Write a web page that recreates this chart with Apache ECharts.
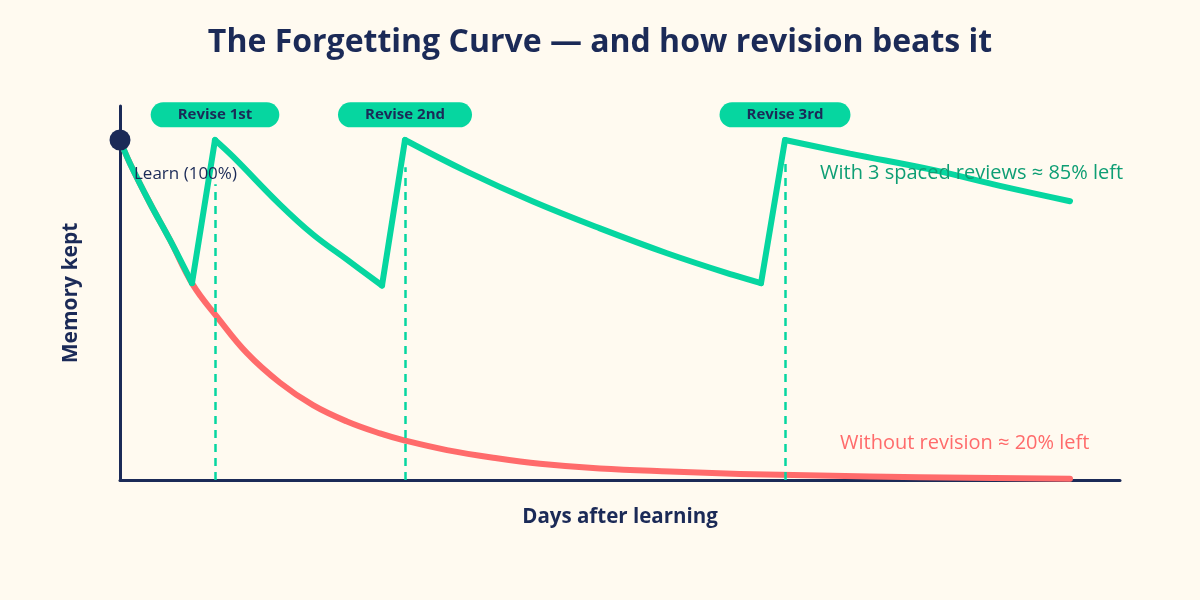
<!DOCTYPE html>
<html>
<head>
<meta charset="utf-8">
<script src="https://cdn.jsdelivr.net/npm/echarts@6/dist/echarts.min.js"></script>
<style>
  html, body { margin: 0; padding: 0; background: #fffaf0; }
  #container1 { width: 1200px; height: 600px; }
</style>
</head>
<body>
<div id="container1"></div>
<script>
var navy = '#1b2a57';
var green = '#06d6a0';
var red = '#ff6b6b';
var fontName = '"Open Sans", "Noto Sans", sans-serif';

// without revision
var redDays = [0, 1, 3, 5, 7.3, 9.7, 12.7, 16, 19.3, 22.7, 26, 28.5, 32.7, 37.7, 42, 48, 55, 62, 70, 80, 95];
var redKept = [100, 93.1, 81.4, 70.6, 57.4, 48, 37.3, 28.6, 22, 17.2, 13.7, 11.6, 8.8, 6.4, 4.8, 3.4, 2.5, 1.8, 1.3, 0.8, 0.4];

// with 3 spaced reviews
var greenDays = [0, 1, 3, 5, 7.2, 9.5, 11.3, 16, 19.3, 22.7, 26.2, 28.5, 34.7, 41.3, 48, 54.7, 61.3, 64.1, 66.5, 73, 81.3, 88, 95];
var greenKept = [100, 93.1, 81.4, 70.6, 57.9, 100, 95.1, 81, 72.2, 64.8, 57.2, 100, 90.7, 81.9, 74, 66.7, 60.3, 57.9, 100, 96, 91.2, 86.5, 82];

var reviseDays = [9.5, 28.5, 66.5];
var reviseLabels = ['Revise 1st', 'Revise 2nd', 'Revise 3rd'];
var dashTops = [87, 92, 94];
var pillLevel = 107.4;

function pairs(xs, ys) {
  return xs.map(function (x, i) { return [x, ys[i]]; });
}

// split the green curve into smooth decays and straight review jumps
function greenSeries() {
  var pts = pairs(greenDays, greenKept);
  var decays = [[pts[0]]];
  var jumps = [];
  for (var i = 1; i < pts.length; i++) {
    if (pts[i][1] > pts[i - 1][1]) {
      jumps.push([pts[i - 1], pts[i]]);
      decays.push([pts[i]]);
    } else {
      decays[decays.length - 1].push(pts[i]);
    }
  }
  var out = [];
  jumps.forEach(function (seg) {
    out.push({
      type: 'line', data: seg, showSymbol: false, z: 3, silent: true,
      lineStyle: { color: green, width: 6, cap: 'round' }
    });
  });
  decays.forEach(function (seg) {
    out.push({
      type: 'line', data: seg, showSymbol: false, smooth: 0.4, z: 3, silent: true,
      lineStyle: { color: green, width: 6, cap: 'round' }
    });
  });
  return out;
}

var myChart = echarts.init(document.getElementById('container1'));
var option = {
  backgroundColor: '#fffaf0',
  animation: false,
  textStyle: { fontFamily: fontName },
  title: {
    text: 'The Forgetting Curve — and how revision beats it',
    left: 'center',
    top: 22,
    textStyle: { color: navy, fontSize: 32, fontWeight: 'bold', fontFamily: fontName }
  },
  grid: { left: 120, right: 80, top: 106, bottom: 120 },
  xAxis: {
    type: 'value',
    min: 0,
    max: 100,
    name: 'Days after learning',
    nameLocation: 'middle',
    nameGap: 27,
    nameTextStyle: { color: navy, fontSize: 20.5, fontWeight: 'bold' },
    axisLine: { lineStyle: { color: navy, width: 3 } },
    axisTick: { show: false },
    axisLabel: { show: false },
    splitLine: { show: false }
  },
  yAxis: {
    type: 'value',
    min: 0,
    max: 110,
    name: 'Memory kept',
    nameLocation: 'middle',
    nameGap: 38,
    nameTextStyle: { color: navy, fontSize: 21, fontWeight: 'bold' },
    axisLine: { show: true, lineStyle: { color: navy, width: 3 } },
    axisTick: { show: false },
    axisLabel: { show: false },
    splitLine: { show: false }
  },
  series: [
    {
      // dashed revision markers
      type: 'line',
      data: [],
      silent: true,
      z: 1,
      markLine: {
        silent: true,
        symbol: 'none',
        label: { show: false },
        lineStyle: { color: green, width: 2.5, type: [8, 6] },
        data: reviseDays.map(function (d, i) {
          return [{ coord: [d, 0] }, { coord: [d, dashTops[i]] }];
        })
      }
    },
    {
      name: 'Without revision',
      type: 'line',
      data: pairs(redDays, redKept),
      showSymbol: false,
      smooth: 0.4,
      silent: true,
      z: 2,
      lineStyle: { color: red, width: 6, cap: 'round', join: 'round' }
    },
    {
      // review pills and the learning dot
      type: 'scatter',
      data: [],
      silent: true,
      z: 5,
      markPoint: {
        silent: true,
        data: reviseDays.map(function (d, i) {
          return {
            coord: [d, pillLevel],
            name: reviseLabels[i],
            symbol: 'rect',
            symbolSize: 1,
            itemStyle: { color: 'rgba(0,0,0,0)' },
            label: {
              show: true,
              position: 'inside',
              formatter: '{b}',
              color: navy,
              fontSize: 15,
              fontWeight: 'bold',
              backgroundColor: green,
              borderRadius: 14,
              padding: [5, 27, 5, 27]
            }
          };
        }).concat([{
          coord: [0, 100],
          name: 'Learn',
          symbol: 'circle',
          symbolSize: 21,
          itemStyle: { color: navy },
          label: { show: false }
        }])
      }
    }
  ].concat(greenSeries()),
  graphic: [
    {
      type: 'text', x: 134, y: 174, z: 10,
      style: { text: 'Learn (100%)', fill: navy, font: '17px ' + fontName, verticalAlign: 'middle' }
    },
    {
      type: 'text', x: 820, y: 173, z: 10,
      style: { text: 'With 3 spaced reviews ≈ 85% left', fill: '#0e9e74', font: '20px ' + fontName, verticalAlign: 'middle' }
    },
    {
      type: 'text', x: 840, y: 443, z: 10,
      style: { text: 'Without revision ≈ 20% left', fill: red, font: '20px ' + fontName, verticalAlign: 'middle' }
    }
  ]
};
myChart.setOption(option, true);
</script>
</body>
</html>
